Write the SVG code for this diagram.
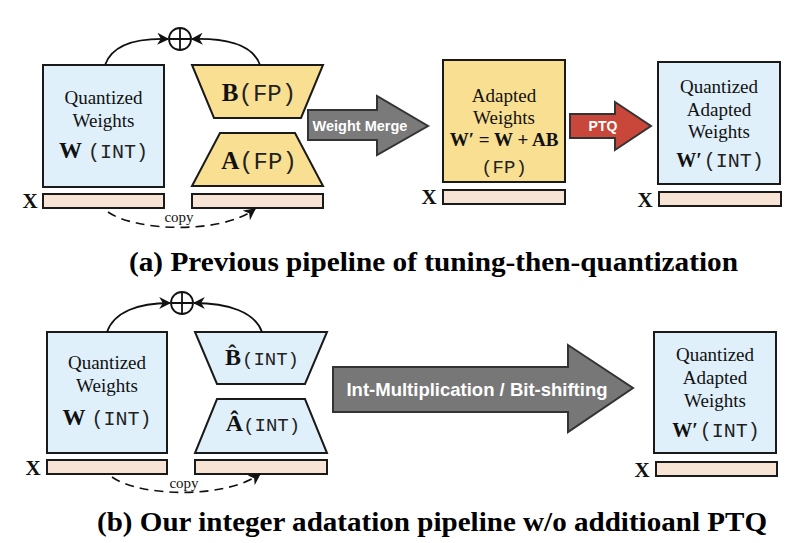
<svg xmlns="http://www.w3.org/2000/svg" width="800" height="543" viewBox="0 0 800 543">
<defs>
<marker id="ah" viewBox="0 0 10 10" refX="9" refY="5" markerWidth="12" markerHeight="12" markerUnits="userSpaceOnUse" orient="auto">
<path d="M0,0 L10,5 L0,10 L3,5 Z" fill="#111"/>
</marker>
<style>
.box{stroke:#1a1a1a;stroke-width:2}
.blue{fill:#dff0fa}
.yel{fill:#f9df91}
.bar{fill:#f8e4d4;stroke:#1a1a1a;stroke-width:2}
.ser{font-family:"Liberation Serif","Times New Roman",serif;fill:#111;font-size:19px;text-anchor:middle}
.bold{font-weight:bold}
.mono{font-family:"Liberation Mono","Courier New",monospace;fill:#222}
.x{font-family:"Liberation Serif",serif;font-weight:bold;font-size:21px;fill:#111;text-anchor:middle}
.arc{fill:none;stroke:#111;stroke-width:1.8}
.dash{fill:none;stroke:#111;stroke-width:1.6;stroke-dasharray:9 6}
.copy{font-family:"Liberation Serif",serif;font-size:15px;fill:#111;text-anchor:middle}
.lbl{font-family:"Liberation Sans",Arial,sans-serif;font-weight:bold;fill:#fff;text-anchor:middle}
.cap{font-family:"Liberation Serif","Times New Roman",serif;font-weight:bold;font-size:27px;fill:#000}
.plus{fill:none;stroke:#111;stroke-width:1.8}
</style>
</defs>

<!-- (a) -->
<g id="a-W">
<rect class="box blue" x="43" y="65" width="121" height="122"/>
<text class="ser" x="103.5" y="104">Quantized</text>
<text class="ser" x="103.5" y="127">Weights</text>
<text class="ser" x="103.5" y="158"><tspan class="bold" font-size="23px">W</tspan><tspan class="mono" font-size="20px" dx="6">(INT)</tspan></text>
</g>
<g id="a-Wx">
<text class="x" x="30" y="208">X</text>
<rect class="bar" x="43" y="194" width="121" height="14"/>
</g>
<g id="a-B">
<polygon class="box yel" points="192,65 323,65 301,118 214,118"/>
<text class="ser" x="259" y="101"><tspan class="bold" font-size="25px">B</tspan><tspan class="mono" font-size="24px">(FP)</tspan></text>
</g>
<g id="a-A">
<polygon class="box yel" points="220,133 295,133 323,186 192,186"/>
<text class="ser" x="259" y="169"><tspan class="bold" font-size="25px">A</tspan><tspan class="mono" font-size="24px">(FP)</tspan></text>
</g>
<g id="a-ABx">
<rect class="bar" x="192" y="194" width="131" height="14"/>
</g>
<g id="a-plus">
<circle class="plus" cx="180" cy="39" r="11"/>
<path class="plus" d="M169,39 H191 M180,28 V50"/>
</g>
<g id="a-merge">
<polygon points="308,110 377,110 377,96 428,126 377,155 377,140 308,140" fill="#7a7a7a" stroke="#333" stroke-width="2"/>
<text class="lbl" x="360" y="131" font-size="14.5px">Weight Merge</text>
</g>
<g id="a-adapted">
<rect class="box yel" x="443" y="60" width="122" height="122"/>
<text class="ser" x="504" y="102">Adapted</text>
<text class="ser" x="504" y="124">Weights</text>
<text class="ser bold" x="504" y="146" font-size="19px">W′ = W + AB</text>
<text class="ser mono" x="504" y="173" font-size="24px">(FP)</text>
</g>
<g id="a-adaptedx">
<text class="x" x="429" y="204">X</text>
<rect class="bar" x="443" y="190" width="122" height="14"/>
</g>
<g id="a-ptq">
<polygon points="570,114 615,114 615,102 651,126 615,150 615,138 570,138" fill="#c9473a" stroke="#333" stroke-width="2"/>
<text class="lbl" x="603" y="131" font-size="14px">PTQ</text>
</g>
<g id="a-qa">
<rect class="box blue" x="658" y="62" width="122" height="122"/>
<text class="ser" x="719" y="93">Quantized</text>
<text class="ser" x="719" y="116">Adapted</text>
<text class="ser" x="719" y="138">Weights</text>
<text class="ser" x="720" y="167"><tspan class="bold" font-size="20px">W′</tspan><tspan class="mono" font-size="20px" dx="2">(INT)</tspan></text>
</g>
<g id="a-qax">
<text class="x" x="645" y="207">X</text>
<rect class="bar" x="659" y="192" width="122" height="14"/>
</g>
<g id="a-connectors">
<path class="arc" d="M105,65 C112,45 135,38 168,39" marker-end="url(#ah)"/>
<path class="arc" d="M260,65 C253,45 226,38 192,39" marker-end="url(#ah)"/>
<path class="dash" d="M108,212 C135,231 220,235 255,209" marker-end="url(#ah)"/>
<text class="copy" x="179" y="222">copy</text>
</g>
<text class="cap" x="129" y="271" textLength="609" lengthAdjust="spacingAndGlyphs">(a) Previous pipeline of tuning-then-quantization</text>

<!-- (b) -->
<g id="b-W">
<rect class="box blue" x="47" y="332" width="120" height="121"/>
<text class="ser" x="107" y="369">Quantized</text>
<text class="ser" x="107" y="392">Weights</text>
<text class="ser" x="107" y="425"><tspan class="bold" font-size="23px">W</tspan><tspan class="mono" font-size="20px" dx="6">(INT)</tspan></text>
</g>
<g id="b-Wx">
<text class="x" x="33" y="475">X</text>
<rect class="bar" x="47" y="460" width="120" height="14"/>
</g>
<g id="b-B">
<polygon class="box blue" points="195,332 327,332 305,384 217,384"/>
<text class="ser" x="262" y="365"><tspan class="bold" font-size="24px">B̂</tspan><tspan class="mono" font-size="19px" dx="1">(INT)</tspan></text>
</g>
<g id="b-A">
<polygon class="box blue" points="217,399 305,399 327,453 195,453"/>
<text class="ser" x="263" y="431"><tspan class="bold" font-size="24px">Â</tspan><tspan class="mono" font-size="19px">(INT)</tspan></text>
</g>
<g id="b-ABx">
<rect class="bar" x="195" y="460" width="132" height="14"/>
</g>
<g id="b-plus">
<circle class="plus" cx="182" cy="303" r="11"/>
<path class="plus" d="M171,303 H193 M182,292 V314"/>
</g>
<g id="b-int">
<polygon points="333,367 568,367 568,345 633,388 568,432 568,412 333,412" fill="#777" stroke="#333" stroke-width="2"/>
<text class="lbl" x="477" y="396" font-size="18.5px">Int-Multiplication / Bit-shifting</text>
</g>
<g id="b-qa">
<rect class="box blue" x="654" y="332" width="122" height="121"/>
<text class="ser" x="715" y="361">Quantized</text>
<text class="ser" x="715" y="384">Adapted</text>
<text class="ser" x="715" y="407">Weights</text>
<text class="ser" x="716" y="437"><tspan class="bold" font-size="20px">W′</tspan><tspan class="mono" font-size="20px" dx="2">(INT)</tspan></text>
</g>
<g id="b-qax">
<text class="x" x="642" y="477">X</text>
<rect class="bar" x="656" y="462" width="121" height="14"/>
</g>
<g id="b-connectors">
<path class="arc" d="M107,332 C114,312 138,303 170,303" marker-end="url(#ah)"/>
<path class="arc" d="M262,332 C255,312 228,303 194,303" marker-end="url(#ah)"/>
<path class="dash" d="M112,477 C140,497 225,499 260,474" marker-end="url(#ah)"/>
<text class="copy" x="184" y="488">copy</text>
</g>
<text class="cap" x="97" y="531" textLength="670" lengthAdjust="spacingAndGlyphs">(b) Our integer adatation pipeline w/o additioanl PTQ</text>
</svg>
